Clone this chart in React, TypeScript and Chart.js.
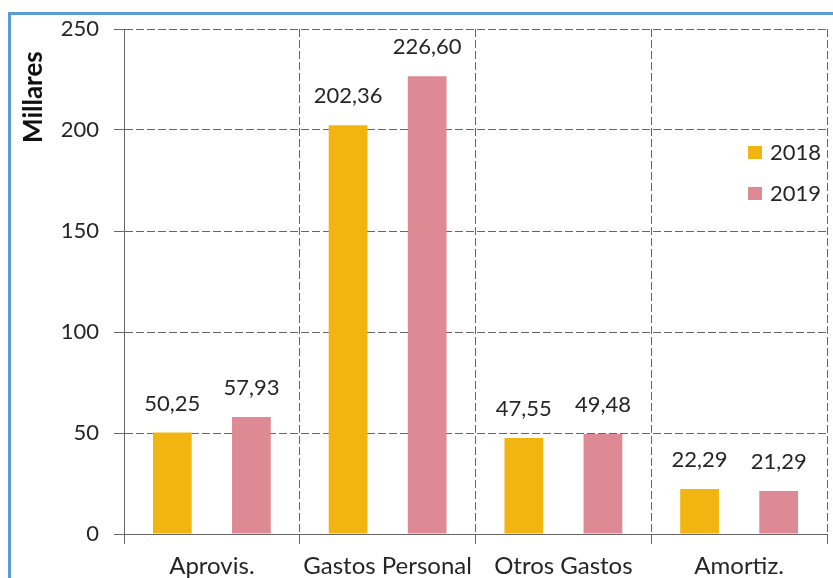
import React, { useEffect, useRef } from "react";
import { Chart, registerables } from "chart.js";

Chart.register(...registerables);

const categories = ["Aprovis.", "Gastos Personal", "Otros Gastos", "Amortiz."];
const series2018 = [50.25, 202.36, 47.55, 22.29];
const series2019 = [57.93, 226.6, 49.48, 21.29];
const seriesLabels = ["2018", "2019"];
const seriesColors = ["#F2B411", "#DE8A95"];
const yTicks = [0, 50, 100, 150, 200, 250];
const yTitle = "Millares";

const FONT = "Lato, 'Open Sans', sans-serif";
const TEXT = "#262626";

const extrasPlugin = {
  id: "extras",
  afterDatasetsDraw(chart: any) {
    const ctx = chart.ctx;
    ctx.save();
    // data labels
    ctx.font = `22px ${FONT}`;
    ctx.fillStyle = TEXT;
    ctx.textAlign = "center";
    ctx.textBaseline = "middle";
    chart.data.datasets.forEach((ds: any, di: number) => {
      const meta = chart.getDatasetMeta(di);
      meta.data.forEach((el: any, i: number) => {
        const v = ds.data[i] as number;
        ctx.fillText(v.toFixed(2).replace(".", ","), el.x, el.y - 29);
      });
    });
    // legend
    const lx = 748;
    const ly = [153, 194];
    chart.data.datasets.forEach((ds: any, di: number) => {
      ctx.fillStyle = ds.backgroundColor;
      ctx.fillRect(lx, ly[di] - 7, 14, 13);
      ctx.fillStyle = TEXT;
      ctx.textAlign = "left";
      ctx.textBaseline = "middle";
      ctx.fillText(ds.label, lx + 22, ly[di]);
    });
    // y title
    ctx.font = `bold 26px ${FONT}`;
    ctx.fillStyle = "#111111";
    ctx.translate(42, 143);
    ctx.rotate(-Math.PI / 2);
    ctx.textAlign = "left";
    ctx.textBaseline = "alphabetic";
    ctx.fillText(yTitle, 0, 0);
    ctx.restore();
  },
};

export default function App() {
  const ref = useRef<HTMLCanvasElement | null>(null);
  useEffect(() => {
    if (!ref.current) return;
    const chart = new Chart(ref.current, {
      type: "bar",
      data: {
        labels: categories,
        datasets: [
          { label: seriesLabels[0], data: series2018, backgroundColor: seriesColors[0] },
          { label: seriesLabels[1], data: series2019, backgroundColor: seriesColors[1] },
        ],
      },
      options: {
        responsive: false,
        animation: false,
        devicePixelRatio: 1,
        layout: { padding: { top: 29, right: 6, left: 0, bottom: 0 } },
        datasets: { bar: { categoryPercentage: 0.9, barPercentage: 0.49 } } as any,
        plugins: { legend: { display: false }, tooltip: { enabled: false } },
        scales: {
          x: {
            grid: { offset: true, color: "#666666", lineWidth: 1, tickLength: 10 },
            border: { display: true, color: "#666666", dash: [8, 3] },
            ticks: { font: { family: FONT, size: 24 }, color: TEXT, padding: 8, maxRotation: 0 },
            afterFit: (s: any) => { s.height = 44; },
          },
          y: {
            min: 0,
            max: 250,
            afterBuildTicks: (s: any) => { s.ticks = yTicks.map((v) => ({ value: v })); },
            grid: { color: "#666666", lineWidth: 1, tickLength: 10 },
            border: { display: true, color: "#666666", dash: [8, 3] },
            ticks: { font: { family: FONT, size: 22 }, color: TEXT, padding: 15 },
            afterFit: (s: any) => { s.width = 124; },
          },
        },
      },
      plugins: [extrasPlugin],
    });
    return () => chart.destroy();
  }, []);
  return (
    <div style={{ position: "fixed", left: 0, top: 0, width: 833, height: 578, overflow: "hidden", background: "#ffffff" }}>
      <div style={{ position: "absolute", left: 8, top: 12, width: 900, height: 700, border: "3px solid #5B9BD5", boxSizing: "border-box" }} />
      <canvas ref={ref} width={833} height={578} style={{ position: "absolute", left: 0, top: 0 }} />
    </div>
  );
}
